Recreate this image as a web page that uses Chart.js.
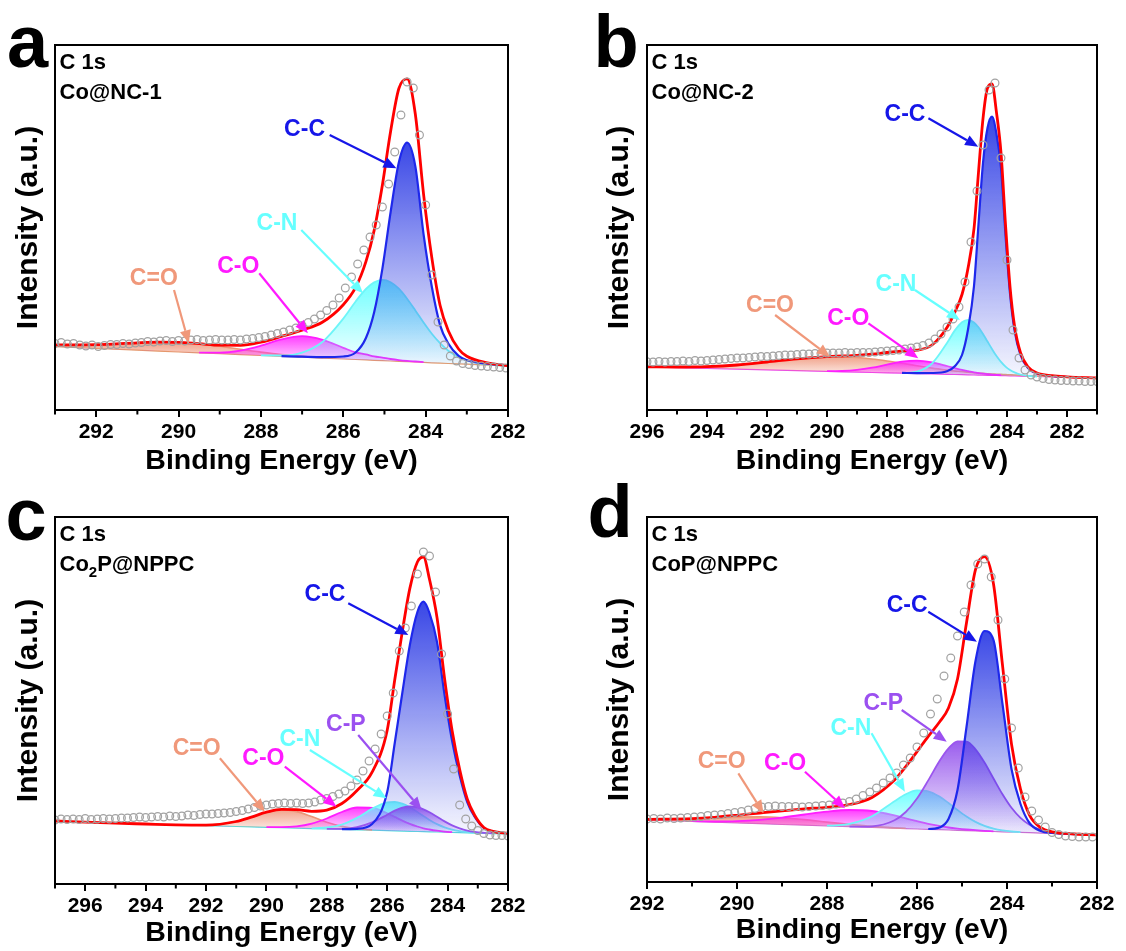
<!DOCTYPE html>
<html>
<head>
<meta charset="utf-8">
<script src="https://cdn.jsdelivr.net/npm/chart.js@4.4.0/dist/chart.umd.min.js"></script>
<style>
body { margin: 0; background: #fff; width: 1126px; height: 951px; position: relative; overflow: hidden; }
canvas { position: absolute; }
</style>
</head>
<body>
<canvas id="pa" width="563" height="478" style="left:0;top:0"></canvas>
<canvas id="pb" width="546" height="478" style="left:580px;top:0"></canvas>
<canvas id="pc" width="563" height="480" style="left:0;top:470px"></canvas>
<canvas id="pd" width="546" height="477" style="left:580px;top:470px"></canvas>
<script>
// ---- data (intensity in a.u.), energies in eV ----
// panel a: Co@NC-1
var aE    = [293, 292, 291, 290.5, 290, 289.5, 289, 288.5, 288, 287.5, 287, 286.5, 286, 285.7, 285.45, 285.25, 285.05, 284.85, 284.65, 284.45, 284.25, 284.05, 283.85, 283.65, 283.45, 283.2, 283, 282.5, 282];
var aBase = [63.3, 61.5, 59.8, 58.9, 58.0, 57.2, 56.3, 55.4, 54.5, 53.6, 52.8, 51.9, 51.0, 50.5, 50.1, 49.7, 49.4, 49.0, 48.7, 48.3, 48.0, 47.6, 47.2, 46.9, 46.5, 46.1, 45.8, 44.9, 44.0];
var aCC   = [63.3, 61.5, 59.8, 58.9, 58.0, 57.2, 56.3, 55.4, 54.6, 53.8, 53.3, 52.9, 53.5, 57.5, 72, 97.7, 141.4, 198, 247.7, 267.3, 243.6, 175.6, 123.2, 84.9, 66.5, 54.1, 49.8, 46.4, 44.5];
var aCN   = [63.3, 61.5, 59.8, 58.9, 58.0, 57.2, 56.3, 55.4, 54.6, 54.5, 57.4, 68.3, 91.4, 108.5, 121, 127.6, 130.1, 127.8, 121.3, 111.3, 99.6, 87.4, 76.2, 66.8, 59.3, 53, 49.7, 45.6, 44.0];
var aCO   = [63.3, 61.5, 59.8, 58.9, 58.0, 57.4, 57.4, 59.4, 64.3, 70.6, 73.8, 70.2, 62.2, 57.6, 55.6, 53.7, 52.4, 51, 49.9, 49.1, 48.5, 47.9, 47.4, 46.9, 46.5, 46.1, 45.8, 44.9, 44.0];
var aCdO  = [64.3, 64.9, 67.2, 67.8, 67.5, 66.1, 63.7, 60.7, 57.9, 55.5, 53.8, 52.3, 51.2, 50.5, 50.1, 49.7, 49.4, 49.0, 48.7, 48.3, 48.0, 47.6, 47.2, 46.9, 46.5, 46.1, 45.8, 44.9, 44.0];
var aFit  = [65, 65.3, 67.2, 67.8, 67.7, 66.3, 64.8, 64.7, 67.9, 73.6, 79.9, 88, 105.3, 122.6, 148.4, 179.6, 225.1, 278.8, 321.5, 331.1, 295.7, 215.7, 152.4, 104.8, 79.3, 61, 53.7, 47.1, 44.5];
var aRawStart = 293, aRawStep = 0.15;
var aRaw  = [66.5, 67.5, 66, 66.5, 65, 64, 65, 63.5, 64.5, 65.5,
             65.5, 66.5, 66, 67, 67.5, 68.5, 68, 69, 69.5, 68.5,
             69.5, 69, 70, 70.5, 69.5, 70, 70.5, 70, 70, 70.5,
             70, 71, 71.5, 72.5, 73.5, 75, 76.5, 78, 80, 82,
             84.5, 87.5, 91, 95, 99.5, 105, 112, 122, 133, 146,
             160, 173, 185, 203, 226, 258, 295, 328, 322, 275,
             205, 135, 88, 65, 54, 49, 46.5, 45.5, 44.5, 44,
             43.5, 43, 42.5, 42];

// panel b: Co@NC-2
var bE    = [296, 295, 294, 293, 292, 291, 290, 289.5, 289, 288.5, 288, 287.5, 287, 286.5, 286, 285.75, 285.5, 285.3, 285.1, 284.95, 284.8, 284.65, 284.5, 284.35, 284.2, 284.05, 283.9, 283.75, 283.55, 283.3, 283, 282.5, 282, 281];
var bBase = [43.0, 42.3, 41.5, 40.8, 40.1, 39.3, 38.6, 38.2, 37.9, 37.5, 37.1, 36.8, 36.4, 36.0, 35.7, 35.5, 35.3, 35.2, 35.0, 34.9, 34.8, 34.7, 34.6, 34.5, 34.4, 34.3, 34.2, 34.1, 33.9, 33.7, 33.5, 33.1, 32.7, 32.0];
var bCC   = [43.0, 42.3, 41.5, 40.8, 40.1, 39.3, 38.6, 38.2, 37.9, 37.6, 37.3, 37.1, 36.9, 37.0, 38.7, 43.5, 55, 80.5, 124, 186, 247, 282, 293.3, 276, 242, 175, 116.7, 80, 55, 42, 36.5, 34, 33, 32.0];
var bCN   = [43.0, 42.3, 41.5, 40.8, 40.1, 39.3, 38.6, 38.2, 37.9, 37.5, 37.1, 37.0, 38.4, 46.5, 67, 79.1, 87.8, 90.2, 87.5, 82.7, 76.1, 68.5, 61, 54, 48.1, 43.4, 40, 37.6, 35.5, 34.2, 33.5, 33.1, 32.7, 32.0];
var bCO   = [43.0, 42.3, 41.5, 40.8, 40.1, 39.3, 38.8, 39, 40.1, 42.3, 45.4, 48.4, 49.4, 47.6, 44, 42, 40.1, 38.8, 37.6, 36.9, 36.3, 35.8, 35.4, 35.1, 34.8, 34.6, 34.2, 34.1, 33.9, 33.7, 33.5, 33.1, 32.7, 32.0];
var bCdO  = [43.2, 43.0, 43.4, 45.0, 48.0, 51.2, 53.2, 53.2, 52.5, 51.0, 49.0, 46.7, 44.3, 41.9, 39.9, 39.0, 38.5, 37.8, 37.2, 36.9, 36.6, 36.3, 36.0, 35.8, 35.6, 35.4, 35.2, 35.0, 34.7, 34.3, 34.0, 33.4, 32.9, 32.0];
var bFit  = [43.2, 43.0, 43.4, 45.0, 48.0, 51.2, 53.4, 54.0, 54.7, 55.8, 57.5, 58.8, 59.8, 65.0, 82.5, 97.1, 115.5, 141.7, 181.3, 237.7, 291.4, 322, 326, 297.4, 257.3, 185.5, 123.5, 84.4, 57.4, 43.1, 37, 34.3, 33.2, 32.0];
var bRawStart = 296, bRawStep = 0.2;
var bRaw  = [48.3, 48, 48.5, 48, 48.5, 48.5, 49, 48.5, 49.5, 49,
             49.5, 50, 50.5, 51, 51.5, 52, 52, 52.5, 53, 53.5,
             53.5, 54, 54.5, 55, 55, 55.5, 56, 56, 56.5, 56.5,
             57, 57, 57, 57.5, 57, 57.5, 57.5, 57.5, 58, 58.5,
             59, 59.5, 60, 61, 62, 63, 64.5, 67, 71, 76,
             83, 91, 103, 128, 168, 219, 265, 320, 327, 252,
             150, 80, 52, 40, 35, 33, 31.5, 30.5, 30, 29.5,
             29.5, 29, 29, 28.5, 28.5, 28.5];

// panel c: Co2P@NPPC
var cE    = [297, 296, 295, 294, 293, 292, 291, 290.5, 290, 289.5, 289, 288.5, 288, 287.5, 287, 286.5, 286, 285.75, 285.5, 285.25, 285, 284.8, 284.6, 284.35, 284.1, 283.85, 283.6, 283.35, 283.1, 282.8, 282.5, 282];
var cBase = [62.5, 61.7, 60.8, 60.0, 59.2, 58.3, 57.5, 57.1, 56.7, 56.3, 55.8, 55.4, 55.0, 54.6, 54.2, 53.8, 53.3, 53.1, 52.9, 52.7, 52.5, 52.3, 52.2, 52.0, 51.8, 51.5, 51.3, 51.1, 50.9, 50.7, 50.4, 50.0];
var cCC   = [62.5, 61.7, 60.8, 60.0, 59.2, 58.3, 57.5, 57.1, 56.7, 56.3, 55.8, 55.4, 55.1, 54.8, 55.2, 60, 92, 141, 191, 239, 272, 282.3, 271, 242, 189, 143, 108.6, 82, 67, 56, 52.5, 50.5];
var cCN   = [62.5, 61.7, 60.8, 60.0, 59.2, 58.3, 57.5, 57.1, 56.7, 56.3, 55.8, 55.7, 56.5, 59.5, 66.1, 75.2, 81.6, 82.1, 80.3, 76.8, 72, 68, 64.1, 59.9, 56.7, 54.3, 52.8, 51.8, 51.2, 50.7, 50.4, 50.0];
var cCP   = [62.5, 61.7, 60.8, 60.0, 59.2, 58.3, 57.5, 57.1, 56.7, 56.3, 55.8, 55.4, 55.1, 55.2, 56.9, 61.6, 69.3, 73.4, 76.4, 77.7, 76.8, 74.7, 71.7, 67.2, 62.6, 58.6, 55.6, 53.4, 52.1, 51.2, 50.6, 50.0];
var cCO   = [62.5, 61.7, 60.8, 60.0, 59.2, 58.3, 57.5, 57.1, 56.8, 56.8, 57.6, 60.4, 65.5, 72, 76.5, 76.1, 70.7, 67.1, 63.4, 60.2, 57.5, 55.7, 54.5, 53.3, 52.4, 51.8, 51.3, 51.1, 50.9, 50.7, 50.4, 50.0];
var cCdO  = [62.5, 61.7, 60.8, 60.0, 59.2, 58.9, 62.5, 66.9, 71.7, 74.2, 72.4, 67.4, 61.8, 57.6, 55.2, 54.1, 53.3, 53.1, 52.9, 52.7, 52.5, 52.3, 52.2, 52.0, 51.8, 51.5, 51.3, 51.1, 50.9, 50.7, 50.4, 50.0];
var cFit  = [63, 61.8, 60.8, 60.0, 59.2, 58.9, 62.5, 66.9, 71.8, 74.7, 74.3, 72.7, 73.9, 80.5, 93.5, 111.8, 153.7, 204.3, 252.4, 295.6, 322, 327, 304.7, 266.4, 205.3, 153.2, 114.4, 85, 68.5, 56.5, 52.7, 50.5];
var cRawStart = 297, cRawStep = 0.2;
var cRaw  = [64, 65, 64.5, 65, 64.5, 65.5, 64.5, 65, 65.5, 65,
             65.5, 66, 66, 66.5, 67, 66.5, 67, 67.5, 67, 68,
             67.5, 68, 69, 68.5, 69.5, 70, 70, 70.5, 71, 71.5,
             72.5, 73.5, 75, 76.5, 78, 79, 80, 80.5, 81, 80.5,
             81, 80.5, 81, 82, 84, 85.5, 87.5, 90, 93, 98,
             104, 113, 123, 135, 150, 168, 191, 233, 256, 278,
             310, 332, 328, 292, 230, 170, 115, 79, 65, 58,
             53.5, 50.5, 49, 48.5, 48.5, 48];

// panel d: CoP@NPPC
var dE    = [292, 291, 290.5, 290, 289.5, 289, 288.5, 288, 287.5, 287, 286.5, 286.25, 286, 285.75, 285.5, 285.3, 285.1, 284.9, 284.7, 284.5, 284.3, 284.1, 283.9, 283.7, 283.5, 283.25, 283, 282.5, 282];
var dBase = [62, 60.5, 59.8, 59, 58.3, 57.5, 56.8, 56, 55.3, 54.5, 53.8, 53.4, 53, 52.6, 52.3, 52, 51.7, 51.4, 51.1, 50.8, 50.5, 50.2, 49.9, 49.6, 49.3, 48.9, 48.5, 47.8, 47];
var dCC   = [62, 60.5, 59.8, 59, 58.3, 57.5, 56.8, 56, 55.3, 54.5, 53.8, 53.7, 53.2, 53.0, 54.5, 63, 92, 155, 221, 251, 242, 178, 113, 78, 59, 51, 49, 47.9, 47.1];
var dCP   = [62, 60.5, 59.8, 59, 58.3, 57.5, 56.8, 56, 55.4, 55.7, 61.7, 70, 83.5, 101.6, 121, 133.6, 140.7, 140.4, 132.7, 119.5, 103.5, 87.7, 74.2, 64.1, 57.2, 52.2, 49.7, 47.9, 47];
var dCN   = [62, 60.5, 59.8, 59, 58.3, 57.5, 56.8, 56.4, 58.2, 65.8, 80.8, 87.8, 91.6, 90.7, 85.4, 79, 72, 65.5, 60.1, 56.1, 53.4, 51.6, 50.5, 49.9, 49.3, 48.9, 48.5, 47.8, 47];
var dCO   = [62, 60.8, 60.5, 60.8, 62.1, 64.4, 67.5, 70.4, 72, 71, 66.6, 63.7, 60.8, 58.1, 56, 54.5, 53.4, 52.5, 51.8, 51.2, 50.7, 50.2, 49.9, 49.6, 49.3, 48.9, 48.5, 47.8, 47];
var dCdO  = [62.6, 63.1, 64, 64.9, 65.2, 64.3, 62.4, 59.9, 57.6, 55.6, 54.3, 53.7, 53.2, 52.6, 52.3, 52, 51.7, 51.4, 51.1, 50.8, 50.5, 50.2, 49.9, 49.6, 49.3, 48.9, 48.5, 47.8, 47];
var dFit  = [62.6, 63.4, 64.7, 66.7, 69, 71.2, 73.1, 74.7, 77.3, 84.6, 102, 115.3, 130.3, 145.6, 160, 174, 203, 259.2, 312.3, 325.4, 298.1, 216.9, 137.9, 92.8, 66.9, 54.3, 50.2, 48, 47.1];
var dRawStart = 292, dRawStep = 0.15;
var dRaw  = [63, 63.5, 63, 64, 63.5, 64, 64.5, 65, 65.5, 66.5,
             67, 67.5, 68.5, 69.5, 70.5, 72, 73.5, 75, 75.5, 76,
             75.5, 75.5, 75.5, 75, 75.5, 76, 76.5, 77, 78, 79,
             80.5, 83, 86.5, 90, 94, 99, 104, 109, 117, 124,
             135, 149, 168, 183, 206, 224, 246, 270, 297, 318,
             323, 305, 262, 203, 154, 114, 85, 71, 62, 55,
             49.5, 47.5, 46, 45.5, 45, 45, 45];

// ---- look ----
var FONT = '"Liberation Sans", Arial, Helvetica, sans-serif';
Chart.defaults.font.family = FONT;

var STYLE = {
  'C-C': { line: '30,40,235',   fill: '40,55,228',   top: 0.92, lw: 2.2, text: '#1616e8' },
  'C-P': { line: '155,85,238',  fill: '140,70,235',  top: 0.88, lw: 1.8, text: '#9b50f0' },
  'C-N': { line: '110,245,248', fill: '95,255,255',  top: 0.9,  lw: 1.8, text: '#66ffff' },
  'C-O': { line: '255,30,255',  fill: '255,40,255',  top: 0.9,  lw: 1.8, text: '#ff1aff' },
  'C=O': { line: '236,150,120', fill: '238,140,110', top: 0.8,  lw: 1.6, text: '#f0987a' }
};

// label text position, arrow tail, arrow head (eV, a.u.)
var NOTES = {
  pa: { letter: 'a', lx: 27.5, ly: 67, name: 'Co@NC-1', labels: [
    { t: 'C-C', at: [286.94, 280], from: [286.33, 275], to: [284.71, 241.7] },
    { t: 'C-N', at: [287.61, 186.7], from: [287.02, 180], to: [285.52, 116.7] },
    { t: 'C-O', at: [288.55, 143.3], from: [288.04, 136.7], to: [286.86, 76.7] },
    { t: 'C=O', at: [290.6, 131.7], from: [290.11, 120], to: [289.75, 66.7] } ] },
  pb: { letter: 'b', lx: 36, ly: 67, name: 'Co@NC-2', labels: [
    { t: 'C-C', at: [287.4, 295], from: [286.62, 291.7], to: [284.96, 263.3] },
    { t: 'C-N', at: [287.7, 125], from: [287.07, 120], to: [285.57, 90] },
    { t: 'C-O', at: [289.29, 91.7], from: [288.62, 86.7], to: [286.96, 51.7] },
    { t: 'C=O', at: [291.9, 104], from: [291.73, 95], to: [289.9, 53.3] } ] },
  pc: { letter: 'c', lx: 26, ly: 70, name: 'Co_2P@NPPC', labels: [
    { t: 'C-C', at: [288.06, 289], from: [287.29, 280.7], to: [285.3, 249] },
    { t: 'C-P', at: [287.37, 159], from: [286.96, 149], to: [284.86, 74] },
    { t: 'C-N', at: [288.89, 144], from: [288.56, 134], to: [286.02, 85.7] },
    { t: 'C-O', at: [290.1, 125.7], from: [289.39, 117.3], to: [287.68, 77.3] },
    { t: 'C=O', at: [292.31, 135.7], from: [291.54, 125.7], to: [290.05, 72.3] } ] },
  pd: { letter: 'd', lx: 30, ly: 67, name: 'CoP@NPPC', labels: [
    { t: 'C-C', at: [286.22, 276], from: [285.75, 270.3], to: [284.67, 240.3] },
    { t: 'C-P', at: [286.75, 178.7], from: [286.34, 172], to: [285.34, 140.3] },
    { t: 'C-N', at: [287.47, 153.7], from: [287.01, 148.7], to: [286.27, 90.3] },
    { t: 'C-O', at: [288.93, 118.7], from: [288.49, 110.3], to: [287.6, 73.7] },
    { t: 'C=O', at: [290.34, 120.3], from: [289.97, 108.7], to: [289.41, 68.7] } ] }
};

function pts(xs, ys) {
  return xs.map(function (x, i) { return { x: x, y: ys[i] }; });
}
function rawPts(start, step, ys) {
  return ys.map(function (y, i) { return { x: +(start - i * step).toFixed(2), y: y }; });
}

// vertical gradient from the peak of the component down to the baseline
function fillGrad(rgb, topA) {
  return function (ctx) {
    var ch = ctx.chart;
    if (!ch.chartArea) return 'rgba(' + rgb + ',0.4)';
    var d = ch.data.datasets[ctx.datasetIndex].data;
    var hi = -1e9, lo = 1e9;
    d.forEach(function (p) { hi = Math.max(hi, p.y); lo = Math.min(lo, p.y); });
    var y0 = ch.scales.y.getPixelForValue(hi), y1 = ch.scales.y.getPixelForValue(lo);
    if (y1 - y0 < 2) y1 = y0 + 2;
    var g = ch.ctx.createLinearGradient(0, y0, 0, y1);
    g.addColorStop(0, 'rgba(' + rgb + ',' + topA + ')');
    g.addColorStop(1, 'rgba(' + rgb + ',0.04)');
    return g;
  };
}

function arrow(c, x0, y0, x1, y1, col) {
  var ang = Math.atan2(y1 - y0, x1 - x0), L = 13, W = 5.5;
  var bx = x1 - L * Math.cos(ang), by = y1 - L * Math.sin(ang);
  c.strokeStyle = col; c.lineWidth = 2.2;
  c.beginPath(); c.moveTo(x0, y0); c.lineTo(bx, by); c.stroke();
  c.fillStyle = col;
  c.beginPath(); c.moveTo(x1, y1);
  c.lineTo(bx + W * Math.sin(ang), by - W * Math.cos(ang));
  c.lineTo(bx - W * Math.sin(ang), by + W * Math.cos(ang));
  c.closePath(); c.fill();
}

var deco = {
  id: 'deco',
  afterDatasetsDraw: function (chart) {
    var n = NOTES[chart.canvas.id], c = chart.ctx, sx = chart.scales.x, sy = chart.scales.y;
    c.save();
    c.font = 'bold 23px ' + FONT; c.textAlign = 'center'; c.textBaseline = 'middle';
    n.labels.forEach(function (l) {
      var col = STYLE[l.t].text;
      arrow(c, sx.getPixelForValue(l.from[0]), sy.getPixelForValue(l.from[1]),
            sx.getPixelForValue(l.to[0]), sy.getPixelForValue(l.to[1]), col);
      c.fillStyle = col;
      c.fillText(l.t, sx.getPixelForValue(l.at[0]), sy.getPixelForValue(l.at[1]));
    });
    c.restore();
  },
  afterDraw: function (chart) {
    var n = NOTES[chart.canvas.id], c = chart.ctx, a = chart.chartArea, sx = chart.scales.x;
    c.save();
    c.strokeStyle = '#000'; c.lineWidth = 2;
    c.strokeRect(a.left, a.top, a.right - a.left, a.bottom - a.top);
    // minor ticks on odd energies
    for (var e = Math.ceil(sx.min); e <= sx.max; e++) {
      if (e % 2 === 0) continue;
      var px = sx.getPixelForValue(e);
      c.beginPath(); c.moveTo(px, a.bottom); c.lineTo(px, a.bottom + 4.5); c.stroke();
    }
    c.fillStyle = '#000'; c.textAlign = 'left'; c.textBaseline = 'alphabetic';
    c.font = 'bold 22px ' + FONT;
    c.fillText('C 1s', a.left + 4.5, a.top + 24);
    // sample name, "_" marks a subscript digit
    var x = a.left + 4.5, y = a.top + 54;
    n.name.split('_').forEach(function (part, i) {
      if (i > 0) {
        c.font = 'bold 15px ' + FONT;
        c.fillText(part[0], x, y + 6);
        x += c.measureText(part[0]).width;
        part = part.slice(1);
      }
      c.font = 'bold 22px ' + FONT;
      c.fillText(part, x, y);
      x += c.measureText(part).width;
    });
    c.font = 'bold 74px ' + FONT; c.textAlign = 'center';
    c.fillText(n.letter, n.lx, n.ly);
    c.restore();
  }
};

function panel(id, p) {
  var comps = p.comps;
  var baseIdx = comps.length + 2;
  var ds = [];
  ds.push({ data: rawPts(p.rawStart, p.rawStep, p.raw), showLine: false, fill: false,
            pointRadius: 3.9, pointBorderWidth: 1.2, pointBorderColor: '#a2a2a2',
            pointBackgroundColor: 'rgba(255,255,255,0)' });
  ds.push({ data: pts(p.E, p.fit), borderColor: '#ff0000', borderWidth: 2.8, fill: false,
            pointRadius: 0, cubicInterpolationMode: 'monotone' });
  comps.forEach(function (cp) {
    var s = STYLE[cp[0]], ys = cp[1], base = p.base;
    ds.push({
      data: pts(p.E, ys),
      borderColor: 'rgb(' + s.line + ')',
      borderWidth: s.lw,
      backgroundColor: fillGrad(s.fill, s.top),
      fill: baseIdx,
      pointRadius: 0,
      cubicInterpolationMode: 'monotone',
      segment: {
        borderColor: function (sg) {
          var i = sg.p0DataIndex, j = sg.p1DataIndex;
          return (ys[i] - base[i] < 0.4 && ys[j] - base[j] < 0.4) ? 'rgba(0,0,0,0)' : undefined;
        }
      }
    });
  });
  ds.push({ data: pts(p.E, p.base), borderColor: p.baseCol, borderWidth: 1.2, fill: false, pointRadius: 0 });

  new Chart(document.getElementById(id), {
    type: 'line',
    data: { datasets: ds },
    options: {
      responsive: false,
      animation: false,
      devicePixelRatio: 1,
      layout: { padding: { left: 0, top: p.top, right: p.right, bottom: 0 } },
      plugins: { legend: { display: false }, tooltip: { enabled: false } },
      scales: {
        x: {
          type: 'linear', reverse: true, min: p.min, max: p.max,
          afterFit: function (s) { s.height = p.xh; },
          ticks: { stepSize: 2, includeBounds: false, maxRotation: 0, autoSkip: false, padding: 3,
                   color: '#000', font: { family: FONT, size: 21, weight: 'bold' } },
          grid: { display: true, drawOnChartArea: false, drawTicks: true, tickLength: 7, lineWidth: 2, color: '#000' },
          border: { display: false },
          title: { display: true, text: 'Binding Energy (eV)', color: '#000',
                   font: { family: FONT, size: 28.5, weight: 'bold' }, padding: { top: 0, bottom: 0 } }
        },
        y: {
          min: 0, max: p.yMax,
          afterFit: function (s) { s.width = p.yw; },
          ticks: { display: false },
          grid: { display: false },
          border: { display: false },
          title: { display: true, text: 'Intensity (a.u.)', color: '#000',
                   font: { family: FONT, size: 30, weight: 'bold' }, padding: { top: p.tpad, bottom: 0 } }
        }
      }
    },
    plugins: [deco]
  });
}

panel('pa', { E: aE, base: aBase, fit: aFit, raw: aRaw, rawStart: aRawStart, rawStep: aRawStep,
  comps: [['C-C', aCC], ['C-N', aCN], ['C-O', aCO], ['C=O', aCdO]],
  min: 282, max: 293, yMax: 365, top: 45, right: 55, xh: 68, yw: 55, tpad: 11, baseCol: '#e39a6c' });
panel('pb', { E: bE, base: bBase, fit: bFit, raw: bRaw, rawStart: bRawStart, rawStep: bRawStep,
  comps: [['C-C', bCC], ['C-N', bCN], ['C-O', bCO], ['C=O', bCdO]],
  min: 281, max: 296, yMax: 365, top: 45, right: 29, xh: 68, yw: 67, tpad: 22, baseCol: '#ee44ee' });
panel('pc', { E: cE, base: cBase, fit: cFit, raw: cRaw, rawStart: cRawStart, rawStep: cRawStep,
  comps: [['C-C', cCC], ['C-P', cCP], ['C-N', cCN], ['C-O', cCO], ['C=O', cCdO]],
  min: 282, max: 297, yMax: 367, top: 47, right: 55, xh: 66, yw: 55, tpad: 11, baseCol: '#55dddd' });
panel('pd', { E: dE, base: dBase, fit: dFit, raw: dRaw, rawStart: dRawStart, rawStep: dRawStep,
  comps: [['C-C', dCC], ['C-P', dCP], ['C-N', dCN], ['C-O', dCO], ['C=O', dCdO]],
  min: 282, max: 292, yMax: 365, top: 47, right: 29, xh: 65, yw: 67, tpad: 22, baseCol: '#d070d0' });
</script>
</body>
</html>
